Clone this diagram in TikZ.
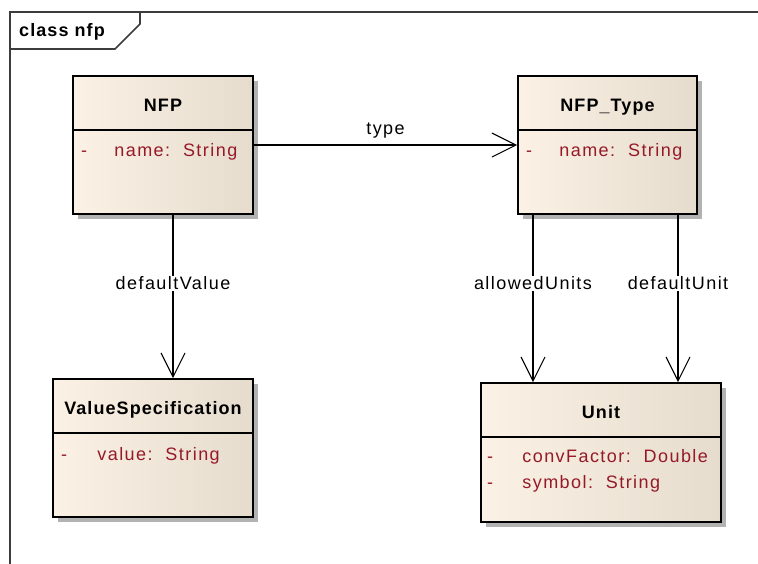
\documentclass[tikz,border=0pt]{standalone}
\usepackage{fontspec}
\setmainfont{Liberation Sans}
\newfontfamily\uifont[LetterSpace=8]{Liberation Sans}
\newfontfamily\uibfont[LetterSpace=6]{Liberation Sans}
\usetikzlibrary{arrows.meta,shadows}
\definecolor{attr}{RGB}{150,25,40}
\definecolor{boxL}{RGB}{251,241,228}
\definecolor{boxR}{RGB}{230,220,206}
\definecolor{framecol}{RGB}{60,60,60}
\begin{document}
\begin{tikzpicture}[x=1pt,y=-1pt,
  every node/.style={font=\uifont\fontsize{18}{21}\selectfont},
  classbox/.style={draw=black, line width=1.6pt, left color=boxL, right color=boxR,
    inner sep=0pt, drop shadow={shadow xshift=5pt, shadow yshift=-5pt, fill=black!30, opacity=1}},
  sepline/.style={draw=black, line width=1.6pt},
  title/.style={font=\uibfont\bfseries\fontsize{18}{21}\selectfont, inner sep=0pt, anchor=base},
  attrtxt/.style={text=attr, anchor=base west, inner sep=0pt},
  dashtxt/.style={text=attr, anchor=base, inner sep=0pt},
  assoc/.style={draw=black, line width=1.1pt, -{Straight Barb[length=24pt,width=24pt,line width=1.1pt]}},
  lbl/.style={fill=white, inner sep=1pt},
  framestyle/.style={draw=framecol, line width=2pt}
]
\useasboundingbox (0,0) rectangle (758,563);

% frame
\draw[framestyle] (760,12) -- (10,12) -- (10,565);
\draw[framestyle, line width=1.6pt] (10,49) -- (115,49) -- (140,24) -- (140,12);
\node[title, anchor=base west] (frametitle) at (19,36) {class nfp};

% classes
\node[classbox, minimum width=180pt, minimum height=138pt] (nfp) at (163,145) {};
\node[classbox, minimum width=179pt, minimum height=138pt] (nfptype) at (607.5,145) {};
\node[classbox, minimum width=200pt, minimum height=138pt] (vs) at (153,448) {};
\node[classbox, minimum width=240pt, minimum height=139pt] (unit) at (601,452.5) {};

\foreach \b in {nfp,nfptype,vs,unit}{
  \draw[sepline] ([yshift=-55pt]\b.north west) -- ([yshift=-55pt]\b.north east);
}

\node[title] (nfpT) at ([yshift=-36pt]nfp.north) {NFP};
\node[dashtxt] (nfpD) at ([xshift=12pt,yshift=-81pt]nfp.north west) {-};
\node[attrtxt] (nfpA) at ([xshift=42pt,yshift=-81pt]nfp.north west) {name:\ \ String};

\node[title] (nfptypeT) at ([yshift=-36pt]nfptype.north) {NFP\_Type};
\node[dashtxt] (nfptypeD) at ([xshift=12pt,yshift=-81pt]nfptype.north west) {-};
\node[attrtxt] (nfptypeA) at ([xshift=42pt,yshift=-81pt]nfptype.north west) {name:\ \ String};

\node[title] (vsT) at ([yshift=-36pt]vs.north) {ValueSpecification};
\node[dashtxt] (vsD) at ([xshift=12pt,yshift=-82pt]vs.north west) {-};
\node[attrtxt] (vsA) at ([xshift=45pt,yshift=-82pt]vs.north west) {value:\ \ String};

\node[title] (unitT) at ([yshift=-36pt]unit.north) {Unit};
\node[dashtxt] (unitD1) at ([xshift=10pt,yshift=-80pt]unit.north west) {-};
\node[attrtxt] (unitA1) at ([xshift=42pt,yshift=-80pt]unit.north west) {convFactor:\ \ Double};
\node[dashtxt] (unitD2) at ([xshift=10pt,yshift=-106pt]unit.north west) {-};
\node[attrtxt] (unitA2) at ([xshift=42pt,yshift=-106pt]unit.north west) {symbol:\ \ String};

% associations
\draw[assoc] (nfp.east) -- node[above=6pt, inner sep=0pt] (typeL) {type} (nfptype.west);
\draw[assoc] ([xshift=10pt]nfp.south) -- node[lbl, pos=0.42] (dvL) {defaultValue} ([xshift=20pt]vs.north);
\draw[assoc] ([xshift=-74.5pt]nfptype.south) -- node[lbl, pos=0.41] (auL) {allowedUnits} ([xshift=-68pt]unit.north);
\draw[assoc] ([xshift=70.5pt]nfptype.south) -- node[lbl, pos=0.41] (duL) {defaultUnit} ([xshift=77pt]unit.north);
\end{tikzpicture}
\end{document}
